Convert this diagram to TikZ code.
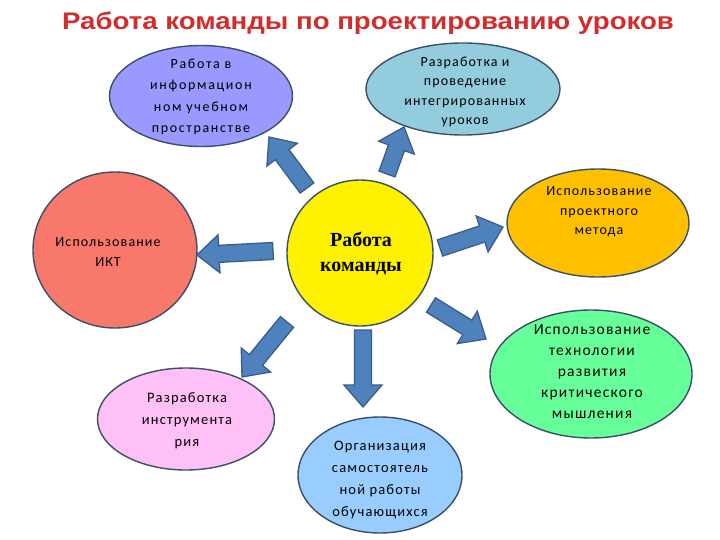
\documentclass[tikz,border=0pt]{standalone}
\usepackage{fontspec}
\usetikzlibrary{shapes.geometric,calc}
\newfontfamily\bodyfont{Carlito}[LetterSpace=8]
\newfontfamily\widebodyfont{Carlito}[LetterSpace=12]
\newfontfamily\titlefont{Liberation Sans}
\newfontfamily\centerfont{Liberation Serif}
\definecolor{arrowfill}{HTML}{4F81BD}
\definecolor{arrowline}{HTML}{385D8A}
\definecolor{edgecol}{HTML}{3A5068}
\definecolor{titlered}{HTML}{D42B2B}
\definecolor{lav}{HTML}{9999FF}
\definecolor{skyb}{HTML}{93CDDD}
\definecolor{orng}{HTML}{FFC000}
\definecolor{grn}{HTML}{66FF99}
\definecolor{salmon}{HTML}{F8796B}
\definecolor{pnk}{HTML}{FFC0F5}
\definecolor{lblue}{HTML}{99CCFF}
\newcommand\blockarrow[2]{%
  \coordinate (ba-p) at ($(#2)!22pt!(#1)$);
  \filldraw[barrow] ($(#1)!8.5pt!90:(#2)$) -- ($(ba-p)!8.5pt!90:(#2)$) -- ($(ba-p)!19pt!90:(#2)$) -- (#2) -- ($(ba-p)!19pt!-90:(#2)$) -- ($(ba-p)!8.5pt!-90:(#2)$) -- ($(#1)!8.5pt!-90:(#2)$) -- cycle;}
\tikzset{
  barrow/.style={fill=arrowfill, draw=arrowline, line width=1.3pt, line join=miter},
  bubble/.style={ellipse, draw=edgecol, line width=1.4pt, inner sep=0pt},
  btext/.style={align=center, font=\bodyfont\fontsize{14}{21}\selectfont, inner sep=0pt, text=black},
}
\begin{document}
\begin{tikzpicture}[x=1pt,y=-1pt]
\useasboundingbox (0,0) rectangle (720,540);
\fill[white] (0,0) rectangle (720,540);
% title
\node[font=\titlefont\bfseries\fontsize{24}{27}\selectfont, text=titlered, inner sep=0pt] (title) at (368,23) {\scalebox{1.15}[1]{Работа команды по проектированию уроков}};
% bubbles
\node[bubble, fill=lav, minimum width=183pt, minimum height=101pt] (tl) at (201,96) {};
\node[bubble, fill=skyb, minimum width=194pt, minimum height=92pt] (tr) at (463,89) {};
\node[bubble, fill=orng, minimum width=182pt, minimum height=108pt] (or) at (598,223) {};
\node[bubble, fill=grn, minimum width=202pt, minimum height=128pt] (gr) at (591,374) {};
\node[bubble, fill=salmon, minimum width=164pt, minimum height=156pt] (ikt) at (115,250) {};
\node[bubble, fill=pnk, minimum width=177pt, minimum height=102pt] (pk) at (186,419) {};
\node[bubble, fill=lblue, minimum width=164pt, minimum height=116pt] (bb) at (380,475) {};
\node[circle, draw=edgecol, line width=1.4pt, fill=yellow, minimum size=146pt, inner sep=0pt] (c) at (360,253) {};
% texts
\node[btext, font=\widebodyfont\fontsize{14}{21.5}\selectfont] (tlt) at (201,97) {Работа в\\информацион\\ном учебном\\пространстве};
\node[btext, font=\bodyfont\fontsize{14}{19.5}\selectfont] (trt) at (465,92) {Разработка и\\проведение\\интегрированных\\уроков};
\node[btext, font=\bodyfont\fontsize{14}{19.5}\selectfont] (ort) at (599,212) {Использование\\проектного\\метода};
\node[btext, font=\bodyfont\fontsize{15.5}{21}\selectfont] (grt) at (592,372) {Использование\\технологии\\развития\\критического\\мышления};
\node[btext, font=\bodyfont\fontsize{14}{20}\selectfont] (iktt) at (108,252) {Использование\\ИКТ};
\node[btext, font=\bodyfont\fontsize{14.5}{22}\selectfont] (pkt) at (187,421) {Разработка\\инструмента\\рия};
\node[btext, font=\bodyfont\fontsize{14.5}{22}\selectfont] (bbt) at (380,480) {Организация\\самостоятель\\ной работы\\обучающихся};
\node[align=center, font=\centerfont\bfseries\fontsize{20}{25}\selectfont, inner sep=0pt] (ct) at (361,254) {Работа\\команды};
% arrow ends
\coordinate (a1s) at (307,188); \coordinate (a1e) at (269,137);
\coordinate (a2s) at (387,174); \coordinate (a2e) at (404,127);
\coordinate (a3s) at (273,251); \coordinate (a3e) at (197,255);
\coordinate (a4s) at (440,248); \coordinate (a4e) at (503,227);
\coordinate (a5s) at (431,305); \coordinate (a5e) at (486,339);
\coordinate (a6s) at (363,330); \coordinate (a6e) at (363,407);
\coordinate (a7s) at (287,322); \coordinate (a7e) at (242,377);
\blockarrow{a1s}{a1e}
\blockarrow{a2s}{a2e}
\blockarrow{a3s}{a3e}
\blockarrow{a4s}{a4e}
\blockarrow{a5s}{a5e}
\blockarrow{a6s}{a6e}
\blockarrow{a7s}{a7e}
\end{tikzpicture}
\end{document}
